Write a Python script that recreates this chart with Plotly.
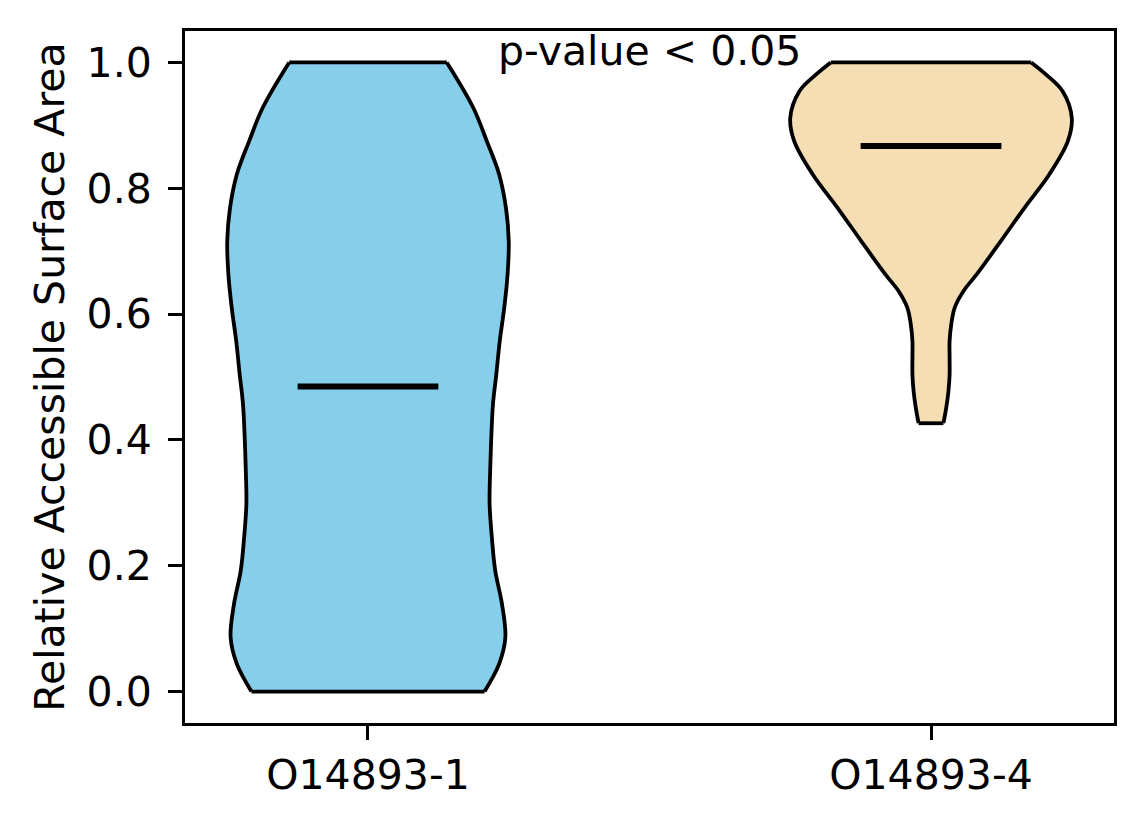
import plotly.graph_objects as go

# ---- data ----
categories = ["O14893-1", "O14893-4"]
positions = [1, 2]
medians = [0.485, 0.867]
colors = ["#87CEEB", "#F5DEB3"]

# violin profile 1: value levels and half-widths (data units)
v1_levels = [0.0, 0.044, 0.086, 0.139, 0.192, 0.245, 0.298, 0.351, 0.404, 0.457,
             0.505, 0.557, 0.610, 0.664, 0.716, 0.769, 0.822, 0.875, 0.928, 1.0]
v1_half = [0.207, 0.233, 0.244, 0.238, 0.226, 0.220, 0.216, 0.217, 0.219, 0.222,
           0.228, 0.234, 0.242, 0.248, 0.250, 0.245, 0.233, 0.211, 0.187, 0.140]

# violin profile 2
v2_levels = [0.4265, 0.451, 0.478, 0.504, 0.531, 0.557, 0.584, 0.610, 0.637, 0.663,
             0.716, 0.769, 0.822, 0.875, 0.912, 0.954, 0.981, 1.0]
v2_half = [0.022, 0.027, 0.031, 0.033, 0.033, 0.033, 0.036, 0.042, 0.058, 0.081,
           0.124, 0.166, 0.210, 0.243, 0.250, 0.234, 0.204, 0.178]

profiles = [(v1_levels, v1_half), (v2_levels, v2_half)]

y_ticks = [0.0, 0.2, 0.4, 0.6, 0.8, 1.0]
annotation_text = "p-value < 0.05"
y_title = "Relative Accessible Surface Area"

FONT = "DejaVu Sans"
FS = 41
EDGE_W = 3.8

fig = go.Figure()

for pos, (lv, hw), col in zip(positions, profiles, colors):
    left_x = [pos - h for h in hw]
    right_x = [pos + h for h in hw]
    # filled body (no outline)
    xs = left_x + right_x[::-1] + [left_x[0]]
    ys = list(lv) + list(lv)[::-1] + [lv[0]]
    fig.add_trace(go.Scatter(
        x=xs, y=ys, mode="lines", fill="toself", fillcolor=col,
        line=dict(color=col, width=0), hoverinfo="skip", showlegend=False,
    ))
    # smooth side outlines
    for side_x in (left_x, right_x):
        fig.add_trace(go.Scatter(
            x=side_x, y=lv, mode="lines",
            line=dict(color="black", width=EDGE_W, shape="spline", smoothing=1.0),
            hoverinfo="skip", showlegend=False,
        ))
    # flat top and bottom edges
    for i in (0, -1):
        fig.add_trace(go.Scatter(
            x=[left_x[i], right_x[i]], y=[lv[i], lv[i]], mode="lines",
            line=dict(color="black", width=EDGE_W),
            hoverinfo="skip", showlegend=False,
        ))

for pos, med in zip(positions, medians):
    fig.add_trace(go.Scatter(
        x=[pos - 0.125, pos + 0.125], y=[med, med], mode="lines",
        line=dict(color="black", width=6), showlegend=False,
        hoverinfo="skip",
    ))

fig.add_annotation(
    x=1.5, y=1.019, xref="x", yref="y", text=annotation_text, showarrow=False,
    xanchor="center", yanchor="middle", font=dict(family=FONT, size=FS, color="black"),
)

axis_common = dict(
    showline=True, linecolor="black", linewidth=3, mirror=True,
    ticks="outside", ticklen=14, tickwidth=3, tickcolor="black",
    showgrid=False, zeroline=False,
    tickfont=dict(family=FONT, size=FS, color="black"),
)

fig.update_xaxes(
    range=[0.675, 2.325], tickvals=positions, ticktext=categories,
    ticklabelstandoff=0, **axis_common,
)
fig.update_yaxes(
    range=[-0.05, 1.05], tickvals=y_ticks, tickformat=".1f",
    ticklabelstandoff=8,
    title=dict(text=y_title, font=dict(family=FONT, size=FS, color="black"), standoff=10),
    **axis_common,
)

fig.update_layout(
    width=1144, height=824,
    margin=dict(l=177, r=38, t=23, b=109),
    paper_bgcolor="white", plot_bgcolor="white",
    font=dict(family=FONT, size=FS, color="black"),
)

fig.write_html("out.html")
